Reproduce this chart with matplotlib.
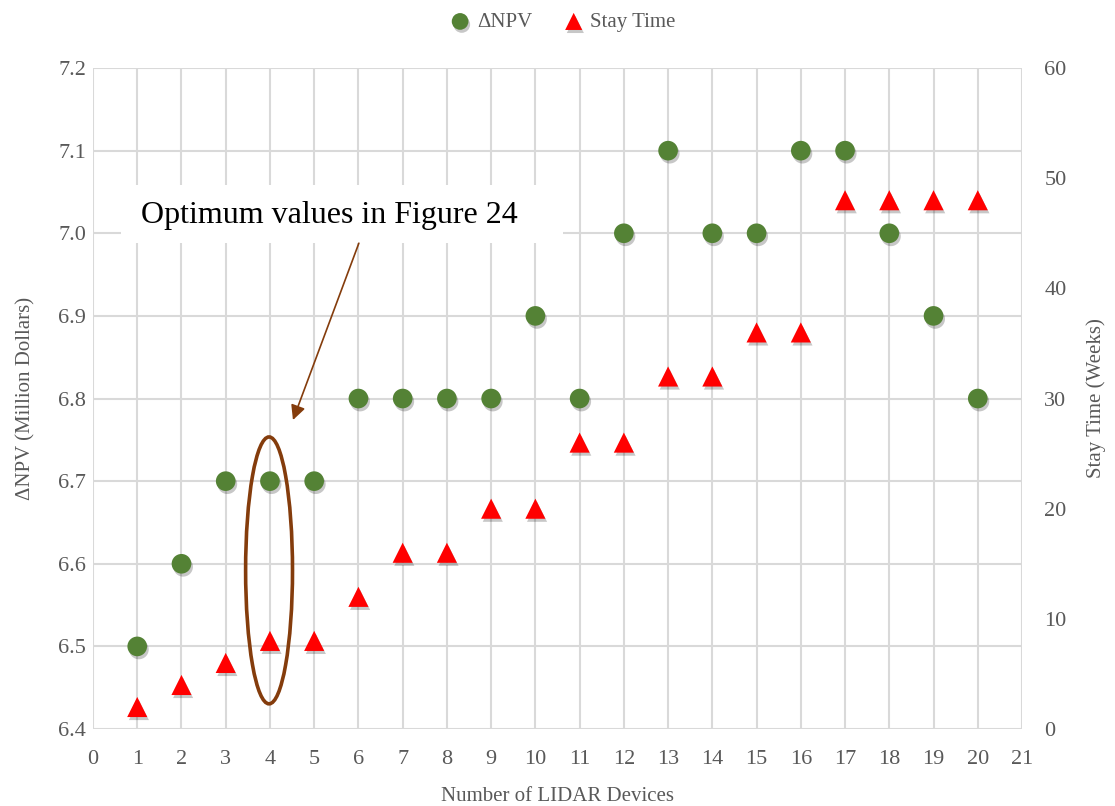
import matplotlib
matplotlib.use("Agg")
import matplotlib.pyplot as plt
from matplotlib.patches import Ellipse, Rectangle
import matplotlib.patheffects as pe

plt.rcParams['font.family'] = ['Liberation Serif', 'DejaVu Serif']

# Data
devices = [1, 2, 3, 4, 5, 6, 7, 8, 9, 10, 11, 12, 13, 14, 15, 16, 17, 18, 19, 20]
npv = [6.5, 6.6, 6.7, 6.7, 6.7, 6.8, 6.8, 6.8, 6.8, 6.9,
       6.8, 7.0, 7.1, 7.0, 7.0, 7.1, 7.1, 7.0, 6.9, 6.8]
stay_weeks = [2, 4, 6, 8, 8, 12, 16, 16, 20, 20,
              26, 26, 32, 32, 36, 36, 48, 48, 48, 48]
left_ticks = [6.4, 6.5, 6.6, 6.7, 6.8, 6.9, 7.0, 7.1, 7.2]
right_ticks = [0, 10, 20, 30, 40, 50, 60]
x_ticks = list(range(0, 22))

green = '#548235'
red = '#FF0000'
brown = '#843C0C'
txt_gray = '#595959'
grid_gray = '#D9D9D9'

fig = plt.figure(figsize=(11.15, 8.06), dpi=100)
ax = fig.add_axes([0.0834, 0.0955, 0.8332, 0.8201])
ax2 = ax.twinx()

shadow = [pe.SimplePatchShadow(offset=(1.2, -2.2), shadow_rgbFace='black', alpha=0.22),
          pe.Normal()]

ax.scatter(devices, npv, s=200, marker='o', color=green, linewidths=0, zorder=5,
           label='ΔNPV', path_effects=shadow)
ax2.scatter(devices, stay_weeks, s=210, marker='^', color=red, linewidths=0, zorder=5,
            label='Stay Time', path_effects=shadow)

ax.set_xlim(0, 21)
ax.set_ylim(6.4, 7.2)
ax2.set_ylim(0, 60)
ax.set_xticks(x_ticks)
ax.set_yticks(left_ticks)
ax.set_yticklabels([f'{v:.1f}' for v in left_ticks])
ax2.set_yticks(right_ticks)

ax.grid(True, color=grid_gray, linewidth=1.5, zorder=0)
ax.set_axisbelow(True)
for a in (ax, ax2):
    for side in ('top', 'left', 'right', 'bottom'):
        a.spines[side].set_visible(False)
    a.tick_params(length=0, labelsize=16, colors=txt_gray)
ax.tick_params(axis='x', pad=15)
ax.tick_params(axis='y', pad=5)
ax2.tick_params(axis='y', pad=16)

ax.set_xlabel('Number of LIDAR Devices', fontsize=15, color=txt_gray, labelpad=13)
ax.set_ylabel('ΔNPV (Million Dollars)', fontsize=15, color=txt_gray, labelpad=16)
ax2.set_ylabel('Stay Time (Weeks)', fontsize=15, color=txt_gray, labelpad=14)

# Annotation
ax.add_patch(Rectangle((0.63, 6.988), 9.99, 0.071, facecolor='white',
                       edgecolor='none', zorder=3))
ax.text(5.35, 7.021, 'Optimum values in Figure 24', ha='center', va='center',
        fontsize=23, color='black', zorder=4)
ax.annotate('', xy=(4.52, 6.774), xytext=(6.01, 6.988),
            arrowprops=dict(arrowstyle='-|>', color=brown, lw=1.2,
                            mutation_scale=22, shrinkA=0, shrinkB=0), zorder=4)
ax.add_patch(Ellipse((3.98, 6.592), 1.06, 0.323, facecolor='none',
                     edgecolor=brown, linewidth=2.6, zorder=6))

h1, l1 = ax.get_legend_handles_labels()
h2, l2 = ax2.get_legend_handles_labels()
fig.legend(h1 + h2, l1 + l2, loc='upper center', bbox_to_anchor=(0.5, 1.008),
           ncol=2, frameon=False, fontsize=15, labelcolor=txt_gray,
           handletextpad=-0.2, columnspacing=1.0, markerscale=0.85)

fig.savefig('out.png', dpi=100, facecolor='white')
